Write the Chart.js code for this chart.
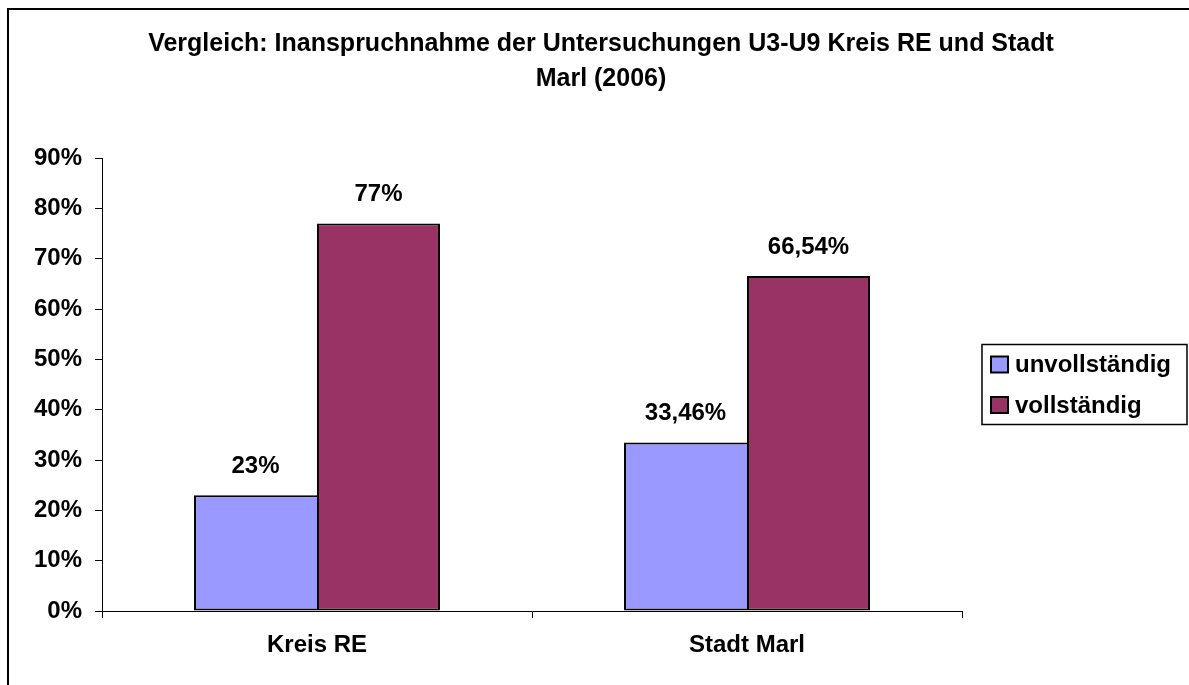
<!DOCTYPE html>
<html>
<head>
<meta charset="utf-8">
<script src="https://cdn.jsdelivr.net/npm/chart.js@4"></script>
<style>
  html, body { margin: 0; padding: 0; background: #fff; overflow: hidden; }
  #frame {
    position: absolute; left: 7px; top: 8px; width: 2000px; height: 2000px;
    border-left: 2px solid #000; border-top: 2px solid #000;
  }
  #wrap { position: absolute; left: 0; top: 0; width: 1189px; height: 685px; }
</style>
</head>
<body>
<div id="frame"></div>
<div id="wrap"><canvas id="myChart" width="1189" height="685"></canvas></div>
<script>
// chart data
const categories = ['Kreis RE', 'Stadt Marl'];
const seriesNames = ['unvollständig', 'vollständig'];
const unvollstaendig = [23, 33.46];
const vollstaendig = [77, 66.54];
const seriesColors = ['#9999FF', '#993366'];
const titleLines = ['Vergleich: Inanspruchnahme der Untersuchungen U3-U9 Kreis RE und Stadt', 'Marl (2006)'];
const yMax = 90;
const yStep = 10;

const FONT = "'Liberation Sans', Arial, sans-serif";

function pct(v) {
  return String(v).replace('.', ',') + '%';
}

// value labels above the bars
const valueLabels = {
  id: 'valueLabels',
  afterDatasetsDraw(chart) {
    const ctx = chart.ctx;
    ctx.save();
    ctx.font = 'bold 24px ' + FONT;
    ctx.fillStyle = '#000';
    ctx.textAlign = 'center';
    ctx.textBaseline = 'middle';
    chart.data.datasets.forEach((ds, i) => {
      chart.getDatasetMeta(i).data.forEach((bar, j) => {
        ctx.fillText(pct(ds.data[j]), bar.x, bar.y - 29);
      });
    });
    ctx.restore();
  }
};

// boxed legend to the right of the plot
const boxLegend = {
  id: 'boxLegend',
  afterDraw(chart) {
    const ctx = chart.ctx;
    const area = chart.chartArea;
    const left = area.right + 20;
    const width = 205;
    const mid = (area.top + area.bottom) / 2;
    const top = mid - 40;
    ctx.save();
    ctx.lineWidth = 1.5;
    ctx.strokeStyle = '#000';
    ctx.strokeRect(left, top, width, 80);
    ctx.font = 'bold 24px ' + FONT;
    ctx.textBaseline = 'middle';
    ctx.textAlign = 'left';
    chart.data.datasets.forEach((ds, i) => {
      const cy = top + 20 + i * 40.5;
      ctx.fillStyle = ds.backgroundColor;
      ctx.fillRect(left + 9, cy - 8, 17, 16);
      ctx.lineWidth = 2;
      ctx.strokeRect(left + 9, cy - 8, 17, 16);
      ctx.fillStyle = '#000';
      ctx.fillText(ds.label, left + 33, cy + 1);
    });
    ctx.restore();
  }
};

document.addEventListener('DOMContentLoaded', function() {
  const data = {
    labels: categories,
    datasets: [
      {
        label: seriesNames[0],
        data: unvollstaendig,
        backgroundColor: seriesColors[0],
        borderColor: '#000',
        borderWidth: 2,
        borderSkipped: 'right',
        categoryPercentage: 0.572,
        barPercentage: 1.0
      },
      {
        label: seriesNames[1],
        data: vollstaendig,
        backgroundColor: seriesColors[1],
        borderColor: '#000',
        borderWidth: 2,
        borderSkipped: false,
        categoryPercentage: 0.572,
        barPercentage: 1.0
      }
    ]
  };

  const config = {
    type: 'bar',
    data: data,
    options: {
      responsive: false,
      animation: false,
      layout: { padding: { left: 13, right: 0, top: 0, bottom: 0 } },
      plugins: {
        legend: { display: false },
        tooltip: { enabled: false },
        title: {
          display: true,
          text: titleLines,
          color: '#000',
          font: { family: FONT, size: 25, weight: 'bold', lineHeight: 35 / 25 },
          padding: { top: 26.5, bottom: 61.5 }
        }
      },
      scales: {
        x: {
          grid: { offset: true, drawOnChartArea: false, drawTicks: true, tickLength: 7, color: '#000' },
          border: { display: true, color: '#000', width: 1 },
          ticks: { color: '#000', padding: 13, font: { family: FONT, size: 24, weight: 'bold' } },
          afterFit: s => { s.height = 74; }
        },
        y: {
          min: 0,
          max: yMax,
          grid: { drawOnChartArea: false, drawTicks: true, tickLength: 7, color: '#000' },
          border: { display: true, color: '#000', width: 1 },
          ticks: {
            stepSize: yStep,
            color: '#000',
            padding: 13,
            font: { family: FONT, size: 24, weight: 'bold' },
            callback: v => v + '%'
          },
          afterFit: s => { s.width = 89; }
        },
        // empty scale that keeps room for the legend on the right
        side: {
          type: 'linear',
          position: 'right',
          grid: { display: false },
          border: { display: false },
          ticks: { display: false },
          afterFit: s => { s.width = 227; }
        }
      }
    },
    plugins: [valueLabels, boxLegend]
  };

  var myChart = new Chart(document.getElementById('myChart'), config);
});
</script>
</body>
</html>
